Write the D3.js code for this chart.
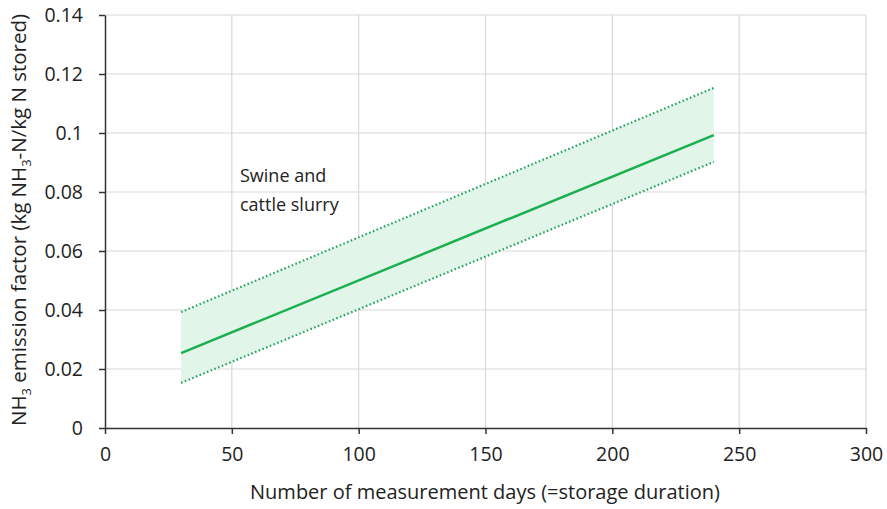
<!DOCTYPE html>
<html><head><meta charset="utf-8">
<script src="https://cdn.jsdelivr.net/npm/d3@7"></script>
<style>body{margin:0;background:#fff}svg{display:block}text{font-family:"Open Sans",sans-serif;fill:#222}</style>
</head><body>
<svg id="c" width="887" height="509"></svg>
<script>
const days = [30, 240];
const central = [0.0254, 0.0993];
const upper = [0.0393, 0.1153];
const lower = [0.0153, 0.0902];
const xTicks = [0, 50, 100, 150, 200, 250, 300];
const yTicks = [0, 0.02, 0.04, 0.06, 0.08, 0.1, 0.12, 0.14];
const yTickLabels = ["0", "0.02", "0.04", "0.06", "0.08", "0.1", "0.12", "0.14"];
const label = ["Swine and", "cattle slurry"];

const svg = d3.select("#c");
const x = d3.scaleLinear().domain([0, 300]).range([105, 866]);
const y = d3.scaleLinear().domain([0, 0.14]).range([428, 15]);
const FONT = "'Open Sans',sans-serif";

// grid
svg.append("g").selectAll("line").data(xTicks.slice(1)).join("line")
  .attr("x1", d => x(d)).attr("x2", d => x(d)).attr("y1", y(0.14)).attr("y2", y(0))
  .attr("stroke", "#d9d9d9").attr("stroke-width", 1.2);
svg.append("g").selectAll("line").data(yTicks.slice(1)).join("line")
  .attr("x1", x(0)).attr("x2", x(300)).attr("y1", d => y(d)).attr("y2", d => y(d))
  .attr("stroke", "#d9d9d9").attr("stroke-width", 1.2);

const pts = days.map((d, i) => ({d, c: central[i], u: upper[i], l: lower[i]}));
svg.append("path").datum(pts)
  .attr("d", d3.area().x(p => x(p.d)).y0(p => y(p.l)).y1(p => y(p.u)))
  .attr("fill", "#e2f5e9");
svg.append("path").datum(pts)
  .attr("d", d3.line().x(p => x(p.d)).y(p => y(p.u)))
  .attr("stroke", "#23a462").attr("stroke-width", 2.2).attr("stroke-dasharray", "1.6,2.4").attr("fill", "none");
svg.append("path").datum(pts)
  .attr("d", d3.line().x(p => x(p.d)).y(p => y(p.l)))
  .attr("stroke", "#23a462").attr("stroke-width", 2.2).attr("stroke-dasharray", "1.6,2.4").attr("fill", "none");
svg.append("path").datum(pts)
  .attr("d", d3.line().x(p => x(p.d)).y(p => y(p.c)))
  .attr("stroke", "#1aaf4f").attr("stroke-width", 2.5).attr("fill", "none");

// axes
const xa = svg.append("g").attr("transform", `translate(0,${y(0)})`)
  .call(d3.axisBottom(x).tickValues(xTicks).tickSize(6).tickSizeOuter(0).tickPadding(13));
const ya = svg.append("g").attr("transform", `translate(${x(0)},0)`)
  .call(d3.axisLeft(y).tickValues(yTicks).tickFormat((d, i) => yTickLabels[i]).tickSize(6).tickSizeOuter(0).tickPadding(16));
[xa, ya].forEach(a => {
  a.select(".domain").attr("stroke", "#333").attr("stroke-width", 1.5);
  a.selectAll(".tick line").attr("stroke", "#333").attr("stroke-width", 1.5);
  a.selectAll("text").attr("font-size", 19.5).attr("fill", "#222").style("font-family", FONT);
});

svg.append("text").attr("x", 240).attr("y", 182).attr("font-size", 18).text(label[0]);
svg.append("text").attr("x", 240).attr("y", 211).attr("font-size", 18).text(label[1]);

svg.append("text").attr("x", 485).attr("y", 499).attr("text-anchor", "middle").attr("font-size", 20)
  .text("Number of measurement days (=storage duration)");

const yl = svg.append("text").attr("transform", "translate(26,220) rotate(-90)").attr("text-anchor", "middle").attr("font-size", 20.5);
yl.append("tspan").text("NH");
yl.append("tspan").attr("font-size", 13).attr("dy", 5).text("3");
yl.append("tspan").attr("dy", -5).text(" emission factor (kg NH");
yl.append("tspan").attr("font-size", 13).attr("dy", 5).text("3");
yl.append("tspan").attr("dy", -5).text("-N/kg N stored)");
</script>
</body></html>
